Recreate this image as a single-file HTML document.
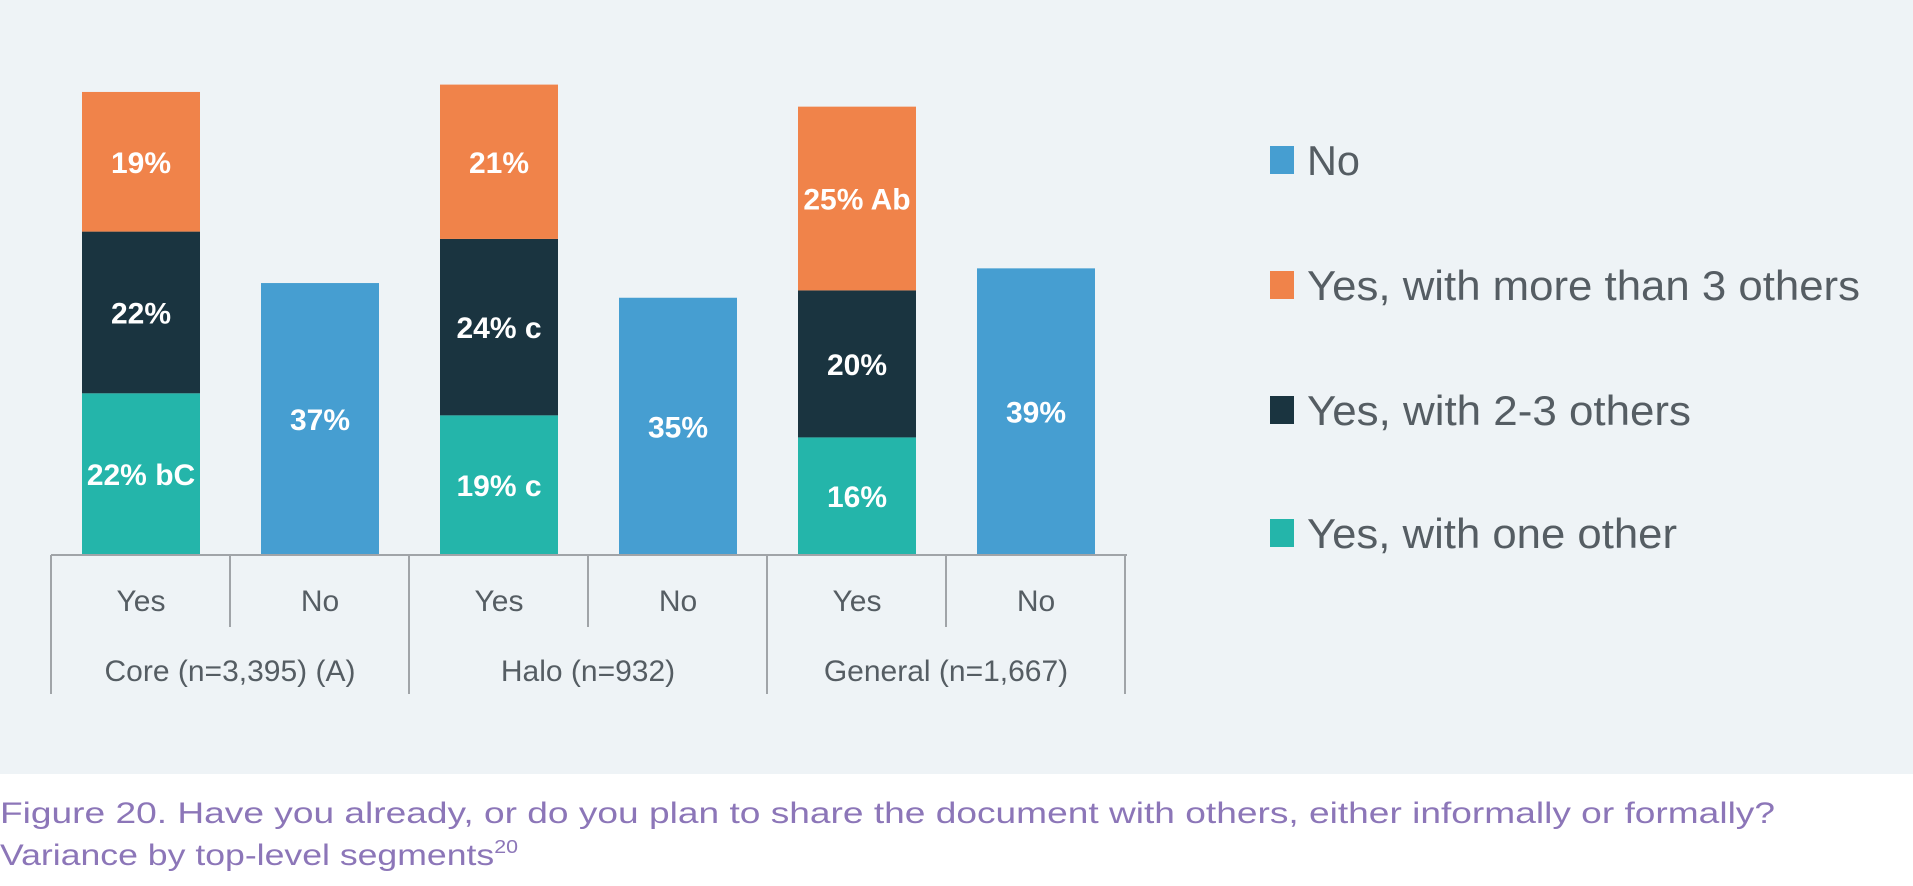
<!DOCTYPE html>
<html><head><meta charset="utf-8"><style>
html,body{margin:0;padding:0;background:#fff;}
svg{display:block;font-family:"Liberation Sans",sans-serif;}
</style></head><body>
<svg width="1913" height="886" viewBox="0 0 1913 886">
<rect x="0" y="0" width="1913" height="774" fill="#eef3f6"/>
<g id="bars"></g>
<g id="axis"></g>
<g id="legend"></g>
<text x="0" y="823" font-size="30" fill="#8c76b8" textLength="1775" lengthAdjust="spacingAndGlyphs">Figure 20. Have you already, or do you plan to share the document with others, either informally or formally?</text>
<text x="0" y="865" font-size="30" fill="#8c76b8" textLength="518" lengthAdjust="spacingAndGlyphs">Variance by top-level segments<tspan font-size="18" dy="-12">20</tspan></text>
</svg>
<script>
const groups = ["Core (n=3,395) (A)", "Halo (n=932)", "General (n=1,667)"];
const oneOther = [22, 19, 16];
const twoThree = [22, 24, 20];
const moreThree = [19, 21, 25];
const noVals = [37, 35, 39];
const oneOtherLbl = ["22% bC", "19% c", "16%"];
const twoThreeLbl = ["22%", "24% c", "20%"];
const moreThreeLbl = ["19%", "21%", "25% Ab"];
const noLbl = ["37%", "35%", "39%"];
const legendItems = ["No", "Yes, with more than 3 others", "Yes, with 2-3 others", "Yes, with one other"];

const NS = "http://www.w3.org/2000/svg";
const baseY = 555, pxPer = 7.35, groupX0 = 51, groupW = 358, barW = 118;
const colors = {no:"#469ed1", more:"#f0834a", two:"#1a3440", one:"#24b5aa"};
function y(v){ return baseY - v * pxPer; }
function h(v){ return v * pxPer; }
function gx(i){ return groupX0 + i * groupW; }
function el(tag, attrs, parent){ const e = document.createElementNS(NS, tag); for (const k in attrs) e.setAttribute(k, attrs[k]); parent.appendChild(e); return e; }
const bars = document.getElementById("bars");
const axis = document.getElementById("axis");
const legend = document.getElementById("legend");

function seg(x, bottom, v, color, label, name){
  const r = el("rect", {x:x, y:y(bottom + v), width:barW, height:h(v), fill:color}, bars);
  
  
  const t = el("text", {x:x + barW/2, y:y(bottom + v/2) + 11, "text-anchor":"middle", "font-size":30, "font-weight":"bold", fill:"#fff"}, bars);
  
  
  t.textContent = label;
}
for (let i = 0; i < groups.length; i++){
  const yesX = gx(i) + 31, noX = gx(i) + 210;
  seg(yesX, 0, oneOther[i], colors.one, oneOtherLbl[i], 'bar-yes-one-other-' + i);
  seg(yesX, oneOther[i], twoThree[i], colors.two, twoThreeLbl[i], 'bar-yes-two-three-' + i);
  seg(yesX, oneOther[i] + twoThree[i], moreThree[i], colors.more, moreThreeLbl[i], 'bar-yes-more-three-' + i);
  seg(noX, 0, noVals[i], colors.no, noLbl[i], 'bar-no-' + i);
}
const base = el("line", {x1:51, x2:1127, y1:baseY, y2:baseY, stroke:"#a0a4a8", "stroke-width":2}, axis);


for (let i = 0; i <= groups.length; i++){
  const l = el("line", {x1:gx(i), x2:gx(i), y1:baseY, y2:694, stroke:"#a0a4a8", "stroke-width":2}, axis);
  
  
}
for (let i = 0; i < groups.length; i++){
  const mid = gx(i) + groupW/2;
  const l = el("line", {x1:mid, x2:mid, y1:baseY, y2:627, stroke:"#a0a4a8", "stroke-width":2}, axis);
  
  
  const ty = el("text", {x:gx(i) + 90, y:611, "text-anchor":"middle", "font-size":30, fill:"#555d63"}, axis);
  
  
  ty.textContent = "Yes";
  const tn = el("text", {x:gx(i) + 269, y:611, "text-anchor":"middle", "font-size":30, fill:"#555d63"}, axis);
  
  
  tn.textContent = "No";
  const tg = el("text", {x:gx(i) + groupW/2, y:681, "text-anchor":"middle", "font-size":30, fill:"#555d63"}, axis);
  
  
  tg.textContent = groups[i];
}
const legColors = [colors.no, colors.more, colors.two, colors.one];
const legY = [160, 285, 410, 533];
const legLen = [53, 553, 384, 370];
for (let i = 0; i < legendItems.length; i++){
  const g = el("g", {}, legend);
  
  
  const s = el("rect", {x:1270, y:legY[i] - 14, width:24, height:28, fill:legColors[i]}, g);
  
  
  const t = el("text", {x:1307, y:legY[i] + 15, "font-size":42, fill:"#555d63", textLength:legLen[i], lengthAdjust:"spacingAndGlyphs"}, g);
  
  
  t.textContent = legendItems[i];
}
</script>
</body></html>
